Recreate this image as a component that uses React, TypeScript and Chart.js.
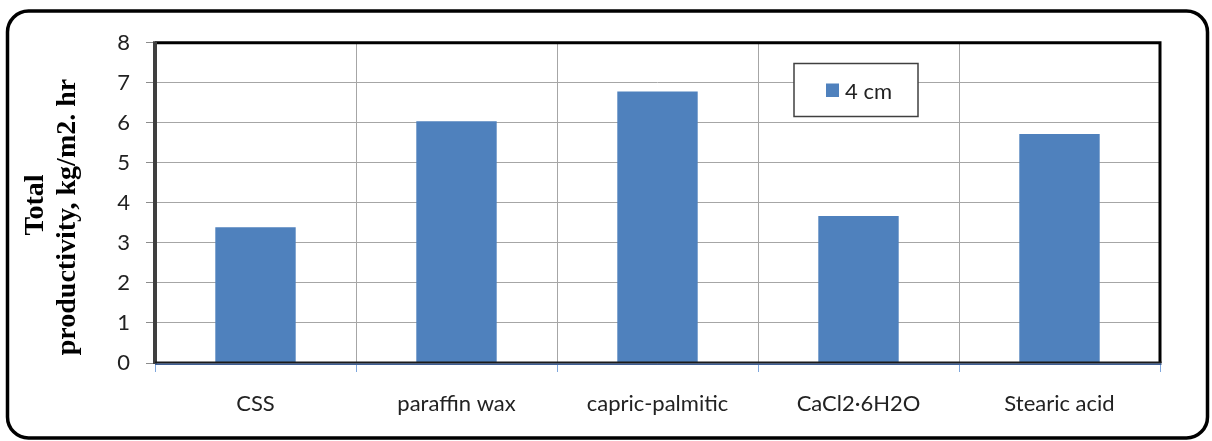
import React, { useEffect, useRef } from "react";
import { Chart, registerables } from "chart.js";

Chart.register(...registerables);

// Total productivity of the still for each storage material (4 cm layer)
const categories = ["CSS", "paraffin wax", "capric-palmitic", "CaCl2\u00B76H2O", "Stearic acid"];
const productivity4cm = [3.39, 6.04, 6.78, 3.67, 5.72];
const seriesLabel = "4 cm";
const yTitleLines = ["Total", "productivity, kg/m2. hr"];
const yMin = 0;
const yMax = 8;
const yStep = 1;

const W = 1212;
const H = 441;
const BAR_BLUE = "#4f81bd";
const TEXT = "#222222";
const SANS = "Lato, 'Liberation Sans', sans-serif";
const SERIF = "'Liberation Serif', 'DejaVu Serif', serif";

function roundRect(ctx: CanvasRenderingContext2D, x: number, y: number, w: number, h: number, r: number) {
  ctx.beginPath();
  ctx.moveTo(x + r, y);
  ctx.lineTo(x + w - r, y);
  ctx.arcTo(x + w, y, x + w, y + r, r);
  ctx.lineTo(x + w, y + h - r);
  ctx.arcTo(x + w, y + h, x + w - r, y + h, r);
  ctx.lineTo(x + r, y + h);
  ctx.arcTo(x, y + h, x, y + h - r, r);
  ctx.lineTo(x, y + r);
  ctx.arcTo(x, y, x + r, y, r);
  ctx.closePath();
}

const decorPlugin = {
  id: "decor",
  beforeDraw(chart: any) {
    const ctx: CanvasRenderingContext2D = chart.ctx;
    ctx.save();
    ctx.fillStyle = "#ffffff";
    ctx.fillRect(0, 0, chart.width, chart.height);
    ctx.restore();
  },
  afterDraw(chart: any) {
    const ctx: CanvasRenderingContext2D = chart.ctx;
    const { left, right, top, bottom } = chart.chartArea;
    ctx.save();

    // plot frame
    ctx.lineCap = "butt";
    ctx.strokeStyle = "#000000";
    ctx.lineWidth = 3;
    ctx.beginPath();
    ctx.moveTo(left, top);
    ctx.lineTo(right, top);
    ctx.lineTo(right, bottom);
    ctx.stroke();

    ctx.strokeStyle = "#3f3f3f";
    ctx.lineWidth = 4;
    ctx.beginPath();
    ctx.moveTo(left, top - 1.5);
    ctx.lineTo(left, bottom + 1);
    ctx.stroke();

    ctx.strokeStyle = "#1a1a1a";
    ctx.lineWidth = 2;
    ctx.beginPath();
    ctx.moveTo(left, bottom - 0.5);
    ctx.lineTo(right + 1.5, bottom - 0.5);
    ctx.stroke();
    ctx.strokeStyle = "#3f5f94";
    ctx.lineWidth = 1.5;
    ctx.beginPath();
    ctx.moveTo(left, bottom + 1.2);
    ctx.lineTo(right + 1.5, bottom + 1.2);
    ctx.stroke();

    // legend box
    const ds = chart.data.datasets[0];
    const lx = 794, ly = 63.5, lw = 124, lh = 53;
    ctx.fillStyle = "#ffffff";
    ctx.fillRect(lx, ly, lw, lh);
    ctx.strokeStyle = "#404040";
    ctx.lineWidth = 1.5;
    ctx.strokeRect(lx, ly, lw, lh);
    ctx.fillStyle = ds.backgroundColor;
    ctx.fillRect(826, 83.5, 13, 13.5);
    ctx.fillStyle = TEXT;
    ctx.font = `22px ${SANS}`;
    ctx.textBaseline = "alphabetic";
    ctx.textAlign = "left";
    ctx.fillText(ds.label, 845, 98.5);

    // y axis title, two rotated lines
    ctx.font = `bold 28px ${SERIF}`;
    ctx.textAlign = "center";
    ctx.fillStyle = "#000000";
    const baselines = [43, 75];
    const centers = [205, 217];
    yTitleLines.forEach((line, i) => {
      ctx.save();
      ctx.translate(baselines[i], centers[i]);
      ctx.rotate(-Math.PI / 2);
      ctx.fillText(line, 0, 0);
      ctx.restore();
    });

    // rounded outer border
    ctx.strokeStyle = "#000000";
    ctx.lineWidth = 3.5;
    roundRect(ctx, 7.5, 11, 1200, 427, 21);
    ctx.stroke();

    ctx.restore();
  },
};

export default function App() {
  const canvasRef = useRef<HTMLCanvasElement | null>(null);

  useEffect(() => {
    const canvas = canvasRef.current;
    if (!canvas) return;
    const chart = new Chart(canvas, {
      type: "bar",
      data: {
        labels: categories,
        datasets: [
          {
            label: seriesLabel,
            data: productivity4cm,
            backgroundColor: BAR_BLUE,
            borderWidth: 0,
            barPercentage: 0.4,
            categoryPercentage: 1,
          },
        ],
      },
      options: {
        responsive: false,
        animation: false,
        devicePixelRatio: 1,
        layout: { padding: { left: 0, top: 42.7, right: 52, bottom: 0 } },
        plugins: {
          legend: { display: false },
          tooltip: { enabled: false },
          title: { display: false },
        },
        scales: {
          x: {
            offset: true,
            grid: {
              offset: true,
              color: "#a6a6a6",
              lineWidth: 1,
              tickLength: 9,
              tickColor: "#7ea6dc",
            },
            border: { display: false },
            ticks: {
              color: TEXT,
              font: { family: SANS, size: 22 },
              padding: 19,
              maxRotation: 0,
              autoSkip: false,
            },
            afterFit: (scale: any) => {
              scale.height = 78;
            },
          },
          y: {
            min: yMin,
            max: yMax,
            grid: {
              color: "#a6a6a6",
              lineWidth: 1,
              tickLength: 9,
              tickColor: "#8c8c8c",
            },
            border: { display: false },
            ticks: {
              stepSize: yStep,
              color: TEXT,
              font: { family: SANS, size: 22 },
              padding: 16,
            },
            afterFit: (scale: any) => {
              scale.width = 155;
            },
          },
        },
      },
      plugins: [decorPlugin],
    });
    return () => chart.destroy();
  }, []);

  return (
    <div style={{ position: "absolute", left: 0, top: 0, width: W, height: H, background: "#fff" }}>
      <canvas ref={canvasRef} width={W} height={H} style={{ display: "block", width: W, height: H }} />
    </div>
  );
}
